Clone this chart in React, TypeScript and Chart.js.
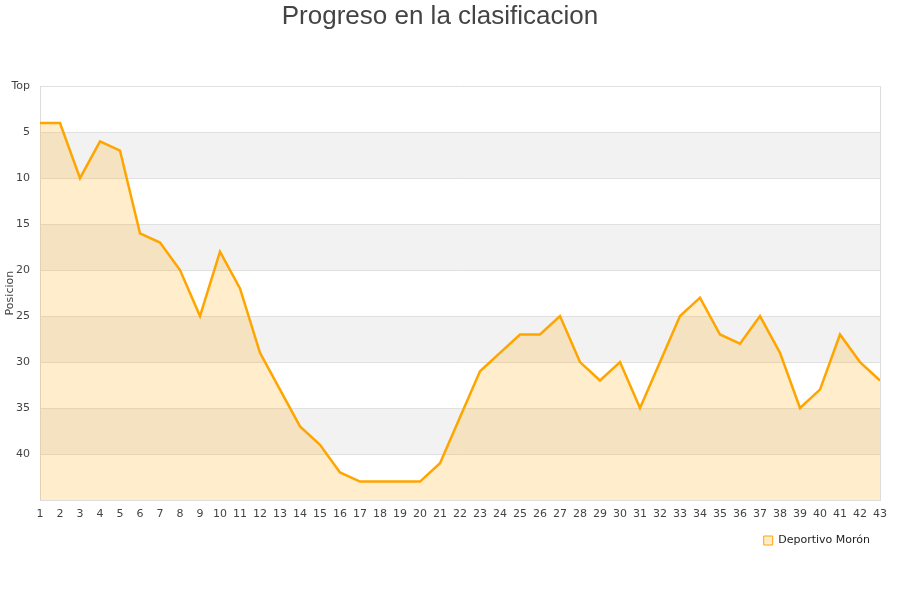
import { useRef, useEffect } from 'react';
import { Chart, registerables, Plugin } from 'chart.js';

Chart.register(...registerables);

const jornadas = Array.from({ length: 43 }, (_, i) => String(i + 1));
const posiciones = [
  4, 4, 10, 6, 7, 16, 17, 20, 25, 18, 22, 29, 33, 37, 39, 42, 43, 43, 43, 43,
  41, 36, 31, 29, 27, 27, 25, 30, 32, 30, 35, 30, 25, 23, 27, 28, 25, 29, 35, 33,
  27, 30, 32,
];
const teamName = 'Deportivo Morón';
const bandRanges = [
  [5, 10],
  [15, 20],
  [25, 30],
  [35, 40],
];

// grey bands behind everything + right border of the plot
const bandsPlugin: Plugin<'line'> = {
  id: 'bands',
  beforeDraw(chart) {
    const { ctx, chartArea, scales } = chart;
    const y = scales.y;
    ctx.save();
    ctx.fillStyle = '#f2f2f2';
    bandRanges.forEach(([a, b]) => {
      const top = y.getPixelForValue(a);
      const bottom = y.getPixelForValue(b);
      ctx.fillRect(chartArea.left, top, chartArea.right - chartArea.left, bottom - top);
    });
    ctx.restore();
  },
  afterDraw(chart) {
    const { ctx, chartArea } = chart;
    ctx.save();
    ctx.strokeStyle = '#dddddd';
    ctx.lineWidth = 1;
    ctx.beginPath();
    ctx.moveTo(chartArea.right + 0.5, chartArea.top);
    ctx.lineTo(chartArea.right + 0.5, chartArea.bottom);
    ctx.stroke();
    ctx.restore();
  },
};

export function PositionChart() {
  const chartRef = useRef<HTMLCanvasElement>(null);
  const chartInstance = useRef<Chart | null>(null);

  useEffect(() => {
    if (!chartRef.current) return;
    document.body.style.margin = '0';

    if (chartInstance.current) {
      chartInstance.current.destroy();
    }

    Chart.defaults.font.family = "'DejaVu Sans', sans-serif";
    Chart.defaults.font.size = 11;
    Chart.defaults.color = '#444';

    chartInstance.current = new Chart(chartRef.current, {
      type: 'line',
      data: {
        labels: jornadas,
        datasets: [
          {
            label: teamName,
            data: posiciones,
            borderColor: '#ffa500',
            backgroundColor: 'rgba(255,165,0,0.2)',
            borderWidth: 2.5,
            pointRadius: 0,
            tension: 0,
            fill: 'start',
          },
        ],
      },
      options: {
        responsive: true,
        maintainAspectRatio: false,
        animation: false,
        layout: { padding: { left: 0, right: 20, top: 0, bottom: 44 } },
        plugins: {
          title: {
            display: true,
            text: 'Progreso en la clasificacion',
            color: '#444',
            font: { family: "'Liberation Sans', Arial, sans-serif", size: 26, weight: 'normal' },
            padding: { top: 1, bottom: 54 },
          },
          legend: {
            position: 'bottom',
            align: 'end',
            labels: {
              boxWidth: 9,
              boxHeight: 9,
              padding: 10,
              color: '#222',
              font: { size: 11 },
              generateLabels: (chart) =>
                Chart.defaults.plugins.legend.labels
                  .generateLabels(chart)
                  .map((l) => ({ ...l, lineWidth: 1, fillStyle: '#feedcc' })),
            },
          },
          tooltip: { enabled: false },
        },
        scales: {
          x: {
            grid: { display: false, drawTicks: false },
            border: { display: true, color: '#dddddd' },
            ticks: { padding: 8, maxRotation: 0, autoSkip: false, color: '#444' },
            afterFit: (scale) => {
              scale.height = 25;
            },
          },
          y: {
            reverse: true,
            min: 0,
            max: 45,
            grid: { color: '#e0e0e0', drawTicks: false },
            border: { display: true, color: '#dddddd' },
            title: {
              display: true,
              text: 'Posicion',
              color: '#444',
              font: { size: 11 },
              padding: { top: 4, bottom: 0 },
            },
            ticks: {
              stepSize: 5,
              padding: 10,
              color: '#444',
              callback: (v) => (v === 0 ? 'Top' : v === 45 ? '' : String(v)),
            },
            afterFit: (scale) => {
              scale.width = 40;
            },
          },
        },
      },
      plugins: [bandsPlugin],
    });

    return () => {
      if (chartInstance.current) {
        chartInstance.current.destroy();
        chartInstance.current = null;
      }
    };
  }, []);

  return (
    <div style={{ width: '900px', height: '600px', position: 'relative' }}>
      <canvas ref={chartRef} />
    </div>
  );
}

export default function App() {
  return <PositionChart />;
}
